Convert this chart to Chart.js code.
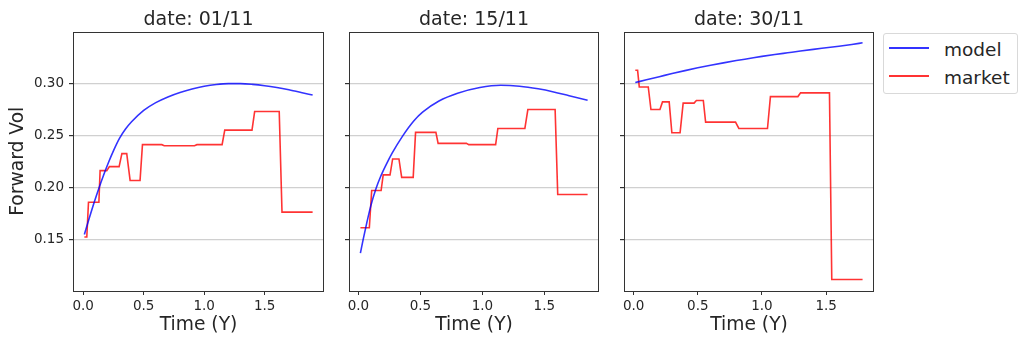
<!DOCTYPE html>
<html>
<head>
<meta charset="utf-8">
<title>Forward Vol</title>
<script src="https://cdn.jsdelivr.net/npm/chart.js@4.4.1/dist/chart.umd.min.js"></script>
<style>
  html, body { margin: 0; padding: 0; background: #fff; }
  body { width: 1019px; height: 343px; position: relative; overflow: hidden; font-family: 'DejaVu Sans', sans-serif; }
  .panel { position: absolute; top: 0; height: 343px; }
  .legend-box {
    position: absolute; left: 883px; top: 33px; width: 135px; height: 61px;
    box-sizing: border-box; border: 1px solid #d9d9d9; border-radius: 3px; background: #fff;
  }
  .legend-line { position: absolute; left: 889px; width: 40px; height: 1.6px; }
  .legend-text { position: absolute; left: 944px; font-size: 18.5px; line-height: 22px; color: #262626; white-space: nowrap; }
</style>
</head>
<body>
<div class="panel" style="left:0;width:330px"><canvas id="chart-0"></canvas></div>
<div class="panel" style="left:336px;width:268px"><canvas id="chart-1"></canvas></div>
<div class="panel" style="left:611px;width:268px"><canvas id="chart-2"></canvas></div>

<div class="legend-box"></div>
<div class="legend-line" style="top:47px;background:rgba(0,0,255,0.8)"></div>
<div class="legend-text" style="top:38.6px">model</div>
<div class="legend-line" style="top:75px;background:rgba(255,0,0,0.8)"></div>
<div class="legend-text" style="top:66.6px">market</div>

<script>
// Axis ticks and limits
const xTicks = [0.0, 0.5, 1.0, 1.5];
const yTicks = [0.15, 0.20, 0.25, 0.30];
const yLimits = [0.1005, 0.3505];
const xLimits = [[-0.084, 1.99], [-0.076, 1.941], [-0.075, 1.873]];
const panelTitles = ['date: 01/11', 'date: 15/11', 'date: 30/11'];
const seriesLabels = ['model', 'market'];

// 01/11
const model0111T = [0.01, 0.05, 0.09, 0.13, 0.17, 0.21, 0.25, 0.30, 0.35, 0.40, 0.50, 0.60, 0.70, 0.80, 0.90, 1.00, 1.10, 1.20, 1.30, 1.40, 1.50, 1.60, 1.70, 1.80, 1.896];
const model0111V = [0.155, 0.1705, 0.1855, 0.1995, 0.2125, 0.2245, 0.2355, 0.2475, 0.2565, 0.2635, 0.2745, 0.282, 0.2875, 0.2918, 0.2952, 0.2978, 0.2995, 0.3003, 0.3003, 0.2996, 0.2983, 0.2965, 0.2943, 0.2918, 0.2893];
const market0111T = [0.01, 0.03, 0.044, 0.13, 0.14, 0.195, 0.217, 0.297, 0.32, 0.36, 0.388, 0.47, 0.49, 0.65, 0.67, 0.92, 0.94, 1.148, 1.17, 1.395, 1.417, 1.62, 1.643, 1.896];
const market0111V = [0.1525, 0.1525, 0.186, 0.186, 0.2165, 0.2165, 0.2203, 0.2203, 0.2328, 0.2328, 0.207, 0.207, 0.2415, 0.2415, 0.2405, 0.2405, 0.2415, 0.2415, 0.2555, 0.2555, 0.2734, 0.2734, 0.1765, 0.1765];

// 15/11
const model1511T = [0.016, 0.038, 0.07, 0.10, 0.14, 0.18, 0.225, 0.273, 0.355, 0.448, 0.52, 0.65, 0.80, 0.98, 1.147, 1.30, 1.45, 1.575, 1.70, 1.849];
const model1511V = [0.137, 0.150, 0.1675, 0.1825, 0.1985, 0.211, 0.2225, 0.2335, 0.2495, 0.2645, 0.273, 0.2835, 0.291, 0.2965, 0.2987, 0.2978, 0.2953, 0.2923, 0.2886, 0.2843];
const market1511T = [0.016, 0.088, 0.107, 0.183, 0.20, 0.255, 0.276, 0.327, 0.349, 0.442, 0.461, 0.625, 0.643, 0.871, 0.89, 1.107, 1.125, 1.343, 1.367, 1.587, 1.608, 1.849];
const market1511V = [0.1615, 0.1615, 0.1973, 0.1973, 0.2124, 0.2124, 0.2277, 0.2277, 0.210, 0.210, 0.2533, 0.2533, 0.2427, 0.2427, 0.2415, 0.2415, 0.2571, 0.2571, 0.2753, 0.2753, 0.1935, 0.1935];

// 30/11
const model3011T = [0.013, 0.1, 0.2, 0.3, 0.4, 0.5, 0.6, 0.7, 0.8, 0.9, 1.0, 1.1, 1.2, 1.3, 1.4, 1.5, 1.6, 1.7, 1.784];
const model3011V = [0.3013, 0.304, 0.307, 0.310, 0.3128, 0.3155, 0.318, 0.3203, 0.3225, 0.3245, 0.3265, 0.3283, 0.330, 0.3317, 0.3333, 0.3348, 0.3363, 0.338, 0.3396];
const market3011T = [0.013, 0.031, 0.044, 0.114, 0.135, 0.205, 0.225, 0.277, 0.298, 0.362, 0.386, 0.471, 0.489, 0.543, 0.561, 0.794, 0.82, 1.043, 1.066, 1.28, 1.301, 1.526, 1.544, 1.784];
const market3011V = [0.3131, 0.3131, 0.2971, 0.2971, 0.2753, 0.2753, 0.2827, 0.2827, 0.253, 0.253, 0.2815, 0.2815, 0.284, 0.284, 0.2632, 0.2632, 0.2571, 0.2571, 0.2878, 0.2878, 0.2914, 0.2914, 0.1116, 0.1116];

const panels = [
  { model: [model0111T, model0111V], market: [market0111T, market0111V] },
  { model: [model1511T, model1511V], market: [market1511T, market1511V] },
  { model: [model3011T, model3011V], market: [market3011T, market3011V] }
];

const TEXT = '#262626';
const FONT = 'DejaVu Sans';
Chart.defaults.font.family = FONT;
Chart.defaults.color = TEXT;

const toPoints = (ts, vs) => ts.map((t, i) => ({ x: t, y: vs[i] }));

// full box around the plot area, drawn on top of the lines
const framePlugin = {
  id: 'frame',
  afterDraw(chart) {
    const { ctx, chartArea: a } = chart;
    ctx.save();
    ctx.strokeStyle = '#333';
    ctx.lineWidth = 1;
    ctx.strokeRect(Math.round(a.left) + 0.5, Math.round(a.top) + 0.5,
      Math.round(a.right - a.left) - 1, Math.round(a.bottom - a.top) - 1);
    ctx.restore();
  }
};

function makePanel(i) {
  const p = panels[i];
  const first = i === 0;
  const ctx = document.getElementById(`chart-${i}`);

  return new Chart(ctx, {
    type: 'line',
    data: {
      datasets: [
        {
          label: seriesLabels[0],
          data: toPoints(p.model[0], p.model[1]),
          borderColor: 'rgba(0, 0, 255, 0.8)',
          borderWidth: 1.6,
          pointRadius: 0,
          cubicInterpolationMode: 'monotone',
          fill: false
        },
        {
          label: seriesLabels[1],
          data: toPoints(p.market[0], p.market[1]),
          borderColor: 'rgba(255, 0, 0, 0.8)',
          borderWidth: 1.6,
          pointRadius: 0,
          tension: 0,
          fill: false
        }
      ]
    },
    options: {
      responsive: true,
      maintainAspectRatio: false,
      animation: false,
      layout: { padding: { left: 0, right: first ? 6 : 5, top: 0, bottom: 0 } },
      scales: {
        x: {
          type: 'linear',
          min: xLimits[i][0],
          max: xLimits[i][1],
          afterBuildTicks: (axis) => { axis.ticks = xTicks.map(v => ({ value: v })); },
          afterFit: (axis) => { axis.height = 52; },
          ticks: {
            padding: 3,
            color: TEXT,
            font: { size: 13.5 },
            maxRotation: 0,
            callback: (value) => value.toFixed(1)
          },
          grid: { drawOnChartArea: false, drawTicks: true, tickLength: 4, tickColor: '#333' },
          border: { display: false },
          title: {
            display: true,
            text: 'Time (Y)',
            color: TEXT,
            font: { size: 18.7 },
            padding: { top: 0, bottom: 6.3 }
          }
        },
        y: {
          min: yLimits[0],
          max: yLimits[1],
          afterBuildTicks: (axis) => { axis.ticks = yTicks.map(v => ({ value: v })); },
          afterFit: (axis) => { axis.width = first ? 73 : 13; },
          ticks: {
            display: first,
            padding: 5,
            color: TEXT,
            font: { size: 13.5 },
            callback: (value) => value.toFixed(2)
          },
          grid: { color: '#d0d0d0', lineWidth: 1.2, drawTicks: true, tickLength: 4, tickColor: '#333' },
          border: { display: false },
          title: {
            display: first,
            text: 'Forward Vol',
            color: TEXT,
            font: { size: 18.7 },
            padding: { top: 7.3, bottom: 0 }
          }
        }
      },
      plugins: {
        legend: { display: false },
        tooltip: { enabled: false },
        title: {
          display: true,
          text: panelTitles[i],
          fullSize: false,
          color: TEXT,
          font: { size: 19, weight: 'normal' },
          padding: { top: 8.7, bottom: 0 }
        }
      }
    },
    plugins: [framePlugin]
  });
}

panels.forEach((_, i) => makePanel(i));
</script>
</body>
</html>
